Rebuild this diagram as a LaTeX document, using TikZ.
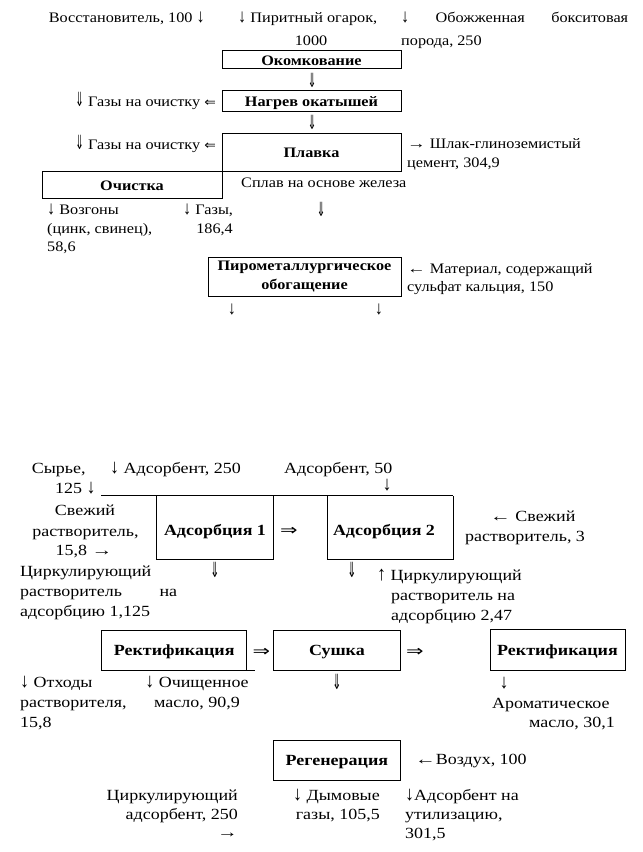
\documentclass[tikz,border=0pt]{standalone}
\usepackage{fontspec}
\setmainfont[FakeStretch=1.12]{Liberation Serif}
\newfontfamily\lowfont[FakeStretch=1.16]{Liberation Serif}
\newfontfamily\arrfont{DejaVu Sans}
\newcommand{\dblD}{{\arrfont\scalebox{0.7}[1.35]{⇓}}}
\newcommand{\dblL}{{\arrfont\scalebox{0.95}[0.85]{⇐}}}
\newcommand{\dblR}{{\arrfont\scalebox{1.35}[1.0]{⇒}}}
\newcommand{\sdn}{\scalebox{1}[1.3]{↓}}
\newcommand{\sarup}{\scalebox{1}[1.3]{↑}}
\newcommand{\sri}{\scalebox{1.15}[1]{→}}
\newcommand{\sle}{\scalebox{1.15}[1]{←}}
\newcommand{\fz}{\fontsize{14.5}{19}\selectfont}
\newcommand{\fzl}{\lowfont\fontsize{15.5}{20}\selectfont}
\tikzset{
  tx/.style={inner sep=0pt, font=\fz},
  txl/.style={inner sep=0pt, font=\fzl},
  bxl/.style={inner sep=0pt, font=\fzl\bfseries},
  bx/.style={draw, line width=0.8pt, inner sep=0pt, font=\fz\bfseries, text height=11pt, text depth=0pt},
  bxb/.style={draw, line width=0.8pt, inner sep=0pt, font=\fzl\bfseries, text height=11.5pt, text depth=0pt},
  ln/.style={line width=0.8pt}
}
\begin{document}
\begin{tikzpicture}[x=1pt,y=-1pt]
\useasboundingbox (0,0) rectangle (643,852);
% ---------- upper scheme ----------
\node[tx, anchor=base west] (vos) at (48.6,22.7) {Восстановитель, 100 \sdn};
\node[tx, anchor=base west] (pir1) at (238,22.7) {\sdn\ Пиритный огарок,};
\node[tx, anchor=base] (pir2) at (311,45) {1000};
\node[tx, anchor=base west] (box1) at (401,22.7) {\makebox[227pt][s]{\sdn\ Обожженная бокситовая}};
\node[tx, anchor=base west] (box2) at (401,45) {порода, 250};
\node[bx, minimum width=179pt, minimum height=17.6pt] (okom) at (311.5,59.5) {Окомкование};
\node[tx] (a1) at (312,80) {\dblD};
\node[tx, anchor=base east] (gas1) at (216,106) {\dblD\ Газы на очистку \dblL};
\node[bx, minimum width=179pt, minimum height=21pt] (nagr) at (311.5,100.5) {Нагрев окатышей};
\node[tx] (a2) at (312,122) {\dblD};
\node[bx, minimum width=179pt, minimum height=38pt] (plav) at (311.5,152) {Плавка};
\node[tx, anchor=base east] (gas2) at (216,149) {\dblD\ Газы на очистку \dblL};
\node[tx, anchor=base west] (slag1) at (407,148) {\sri\ Шлак-глиноземистый};
\node[tx, anchor=base west] (slag2) at (407,167) {цемент, 304,9};
\node[bx, minimum width=180pt, minimum height=26.6pt] (ochi) at (132,185) {Очистка};
\node[tx, anchor=base west] (splav) at (241,187) {Сплав на основе железа};
\node[tx, anchor=base west] (voz1) at (47,214) {\sdn\ Возгоны};
\node[tx, anchor=base west] (voz2) at (47,233) {(цинк, свинец),};
\node[tx, anchor=base west] (voz3) at (47,251.7) {58,6};
\node[tx, anchor=base west] (gaz1) at (183,214) {\sdn\ Газы,};
\node[tx, anchor=base east] (gaz2) at (233,233) {186,4};
\node[tx] (a3) at (321,209) {\dblD};
\node[draw, line width=0.8pt, inner sep=0pt, font=\fz\bfseries, align=center, minimum width=193pt, minimum height=39pt] (piro) at (304.5,276.5) {Пирометаллургическое\\обогащение};
\node[tx, anchor=base west] (mat1) at (407,273) {\sle\ Материал, содержащий};
\node[tx, anchor=base west] (mat2) at (407,291) {сульфат кальция, 150};
\node[tx] (o1) at (232,309) {\sdn};
\node[tx] (o2) at (379,309) {\sdn};
% ---------- lower scheme ----------
\node[txl, anchor=base west] (syr1) at (31.7,473) {Сырье,};
\node[txl, anchor=base west] (syr2) at (55,493) {125 \sdn};
\node[txl, anchor=base west] (ad250) at (110,473) {\sdn\ Адсорбент, 250};
\node[txl, anchor=base west] (ad50) at (284,473) {Адсорбент, 50};
\node[txl] (ad50a) at (387,485) {\sdn};
\coordinate (tl) at (101,495.5);
\coordinate (tr) at (453,495.5);
\draw[ln] (tl) -- (tr);
\draw[ln] (156.7,495.5) -- (156.7,559) -- (273.3,559) -- (273.3,495.5);
\draw[ln] (327,495.5) -- (327,559) -- (453,559) -- (tr);
\node[txl, anchor=base] (sv1) at (85,515) {Свежий};
\node[txl, anchor=base] (sv2) at (85.5,536) {растворитель,};
\node[txl, anchor=base] (sv3) at (84,555) {15,8 \sri};
\node[bxl, anchor=base] (ads1) at (215,535) {Адсорбция 1};
\node[txl] (ar1) at (289,531) {\dblR};
\node[bxl, anchor=base] (ads2) at (384,535) {Адсорбция 2};
\node[txl, anchor=base west] (sv4) at (490,521.7) {\sle\ Свежий};
\node[txl, anchor=base west] (sv5) at (465,541.7) {растворитель, 3};
\node[txl, anchor=base west] (cr1) at (20,576) {Циркулирующий};
\node[txl, anchor=base west] (cr2) at (20,596) {\makebox[157pt][s]{растворитель на}};
\node[txl, anchor=base west] (cr3) at (20,616) {адсорбцию 1,125};
\node[txl] (d1) at (215,570) {\dblD};
\node[txl] (d2) at (352,570) {\dblD};
\node[txl, anchor=base west] (cr4) at (377,580) {\sarup\ Циркулирующий};
\node[txl, anchor=base west] (cr5) at (391,600) {растворитель на};
\node[txl, anchor=base west] (cr6) at (391,620) {адсорбцию 2,47};
\node[bxb, minimum width=145pt, minimum height=40pt] (rect1) at (174.2,650) {Ректификация};
\draw[ln] (rect1.south east) -- ++(8.3,0);
\node[txl] (ar2) at (261.5,652) {\dblR};
\node[bxb, minimum width=127.2pt, minimum height=40pt] (sush) at (336.9,650) {Сушка};
\node[txl] (ar3) at (415,652) {\dblR};
\node[bxb, minimum width=135pt, minimum height=41pt] (rect2) at (557.5,649.5) {Ректификация};
\node[txl, anchor=base west] (otx1) at (20,687) {\sdn\ Отходы};
\node[txl, anchor=base west] (otx2) at (20,707) {растворителя,};
\node[txl, anchor=base west] (otx3) at (20,727) {15,8};
\node[txl, anchor=base] (och1) at (197,687) {\sdn\ Очищенное};
\node[txl, anchor=base] (och2) at (197,707) {масло, 90,9};
\node[txl] (d3) at (337,682) {\dblD};
\node[txl] (d4) at (504,683) {\sdn};
\node[txl, anchor=base west] (aro1) at (492,708) {Ароматическое};
\node[txl, anchor=base east] (aro2) at (615,727) {масло, 30,1};
\node[bxb, minimum width=127.2pt, minimum height=40pt] (regen) at (336.9,760) {Регенерация};
\node[txl, anchor=base west] (vozd) at (415,764) {\sle Воздух, 100};
\node[txl, anchor=base east] (cir1) at (238,800) {Циркулирующий};
\node[txl, anchor=base east] (cir2) at (238,819) {адсорбент, 250};
\node[txl, anchor=east] (cir3) at (238,835) {\sri};
\node[txl, anchor=base east] (dym1) at (380,800) {\sdn\ Дымовые};
\node[txl, anchor=base east] (dym2) at (380,819) {газы, 105,5};
\node[txl, anchor=base west] (ut1) at (405,800) {\sdn Адсорбент на};
\node[txl, anchor=base west] (ut2) at (405,819) {утилизацию,};
\node[txl, anchor=base west] (ut3) at (405,838) {301,5};
\end{tikzpicture}
\end{document}
